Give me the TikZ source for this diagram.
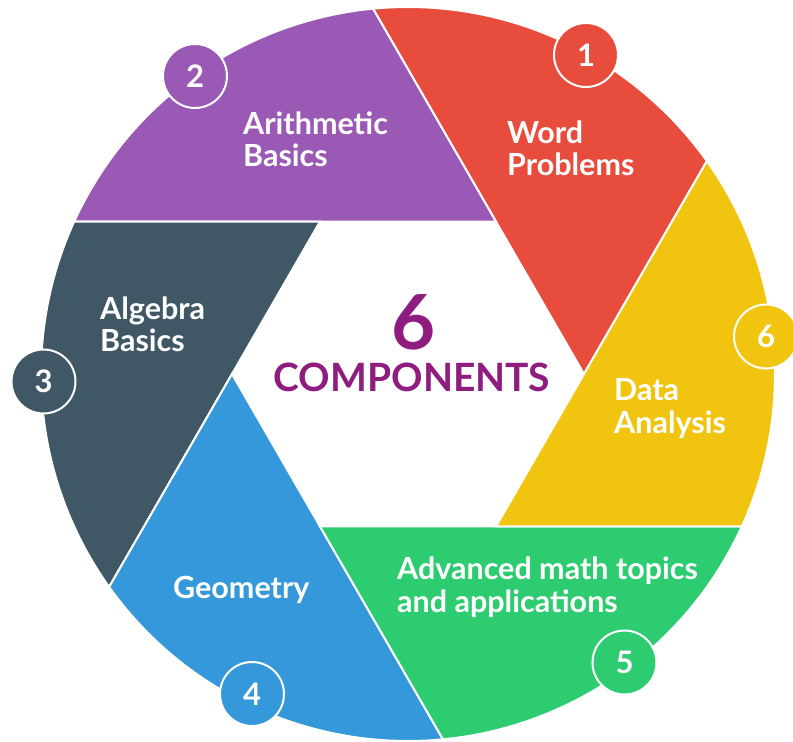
\documentclass[tikz,border=0pt]{standalone}
\usepackage{fontspec}
\setmainfont{Lato}
\definecolor{cred}{HTML}{E74C3C}
\definecolor{cpurple}{HTML}{9B59B6}
\definecolor{cdark}{HTML}{405765}
\definecolor{cblue}{HTML}{3498DB}
\definecolor{cgreen}{HTML}{2ECC71}
\definecolor{cyellow}{HTML}{F1C40F}
\definecolor{ctitle}{HTML}{8F1D7F}
\tikzset{
  blade/.style={fill=#1, draw=white, line width=2pt, line join=miter},
  lbl/.style={text=white, font=\fontsize{30.5}{32.5}\selectfont\bfseries, align=left, inner sep=0pt, anchor=base west},
  badge/.style={circle, fill=#1, draw=white, line width=2pt, minimum size=64pt, inner sep=0pt, text=white, font=\fontsize{31}{31}\selectfont\bfseries}
}
\begin{document}
\begin{tikzpicture}[x=1pt,y=1pt]
\useasboundingbox (-408,-368) rectangle (385,374);
\foreach \k/\col in {0/cred,1/cpurple,2/cdark,3/cblue,4/cgreen,5/cyellow}{
  \path[blade=\col] ({60*\k}:176pt) -- ({60*\k+95.47}:367pt)
    arc[start angle={60*\k+95.47}, end angle={60*\k+35.47}, radius=367pt] -- cycle;
}
% labels (anchor at the baseline of the last line)
\node[lbl] (l1) at (99,198.3) {Word\\Problems};
\node[lbl] (l2) at (-165,207.3) {Arithmetic\\Basics};
\node[lbl] (l3) at (-308,22.3) {Algebra\\Basics};
\node[lbl] (l4) at (-235,-224) {Geometry};
\node[lbl] (l5) at (-11,-238) {Advanced math topics\\and applications};
\node[lbl] (l6) at (206,-59) {Data\\Analysis};
% badges
\node[badge=cred] (b1) at (178,319) {1};
\node[badge=cpurple] (b2) at (-213,298) {2};
\node[badge=cdark] (b3) at (-364.5,-7.5) {3};
\node[badge=cblue] (b4) at (-156,-320) {4};
\node[badge=cgreen] (b5) at (216.5,-288.5) {5};
\node[badge=cyellow] (b6) at (358,37.5) {6};
% title
\node[text=ctitle, font=\fontsize{76}{76}\selectfont\bfseries, inner sep=0pt, anchor=base] (six) at (6,25) {6};
\node[text=ctitle, font=\fontsize{39}{39}\selectfont\bfseries, inner sep=0pt, anchor=base] (comp) at (4,-17.7) {COMPONENTS};
\end{tikzpicture}
\end{document}
